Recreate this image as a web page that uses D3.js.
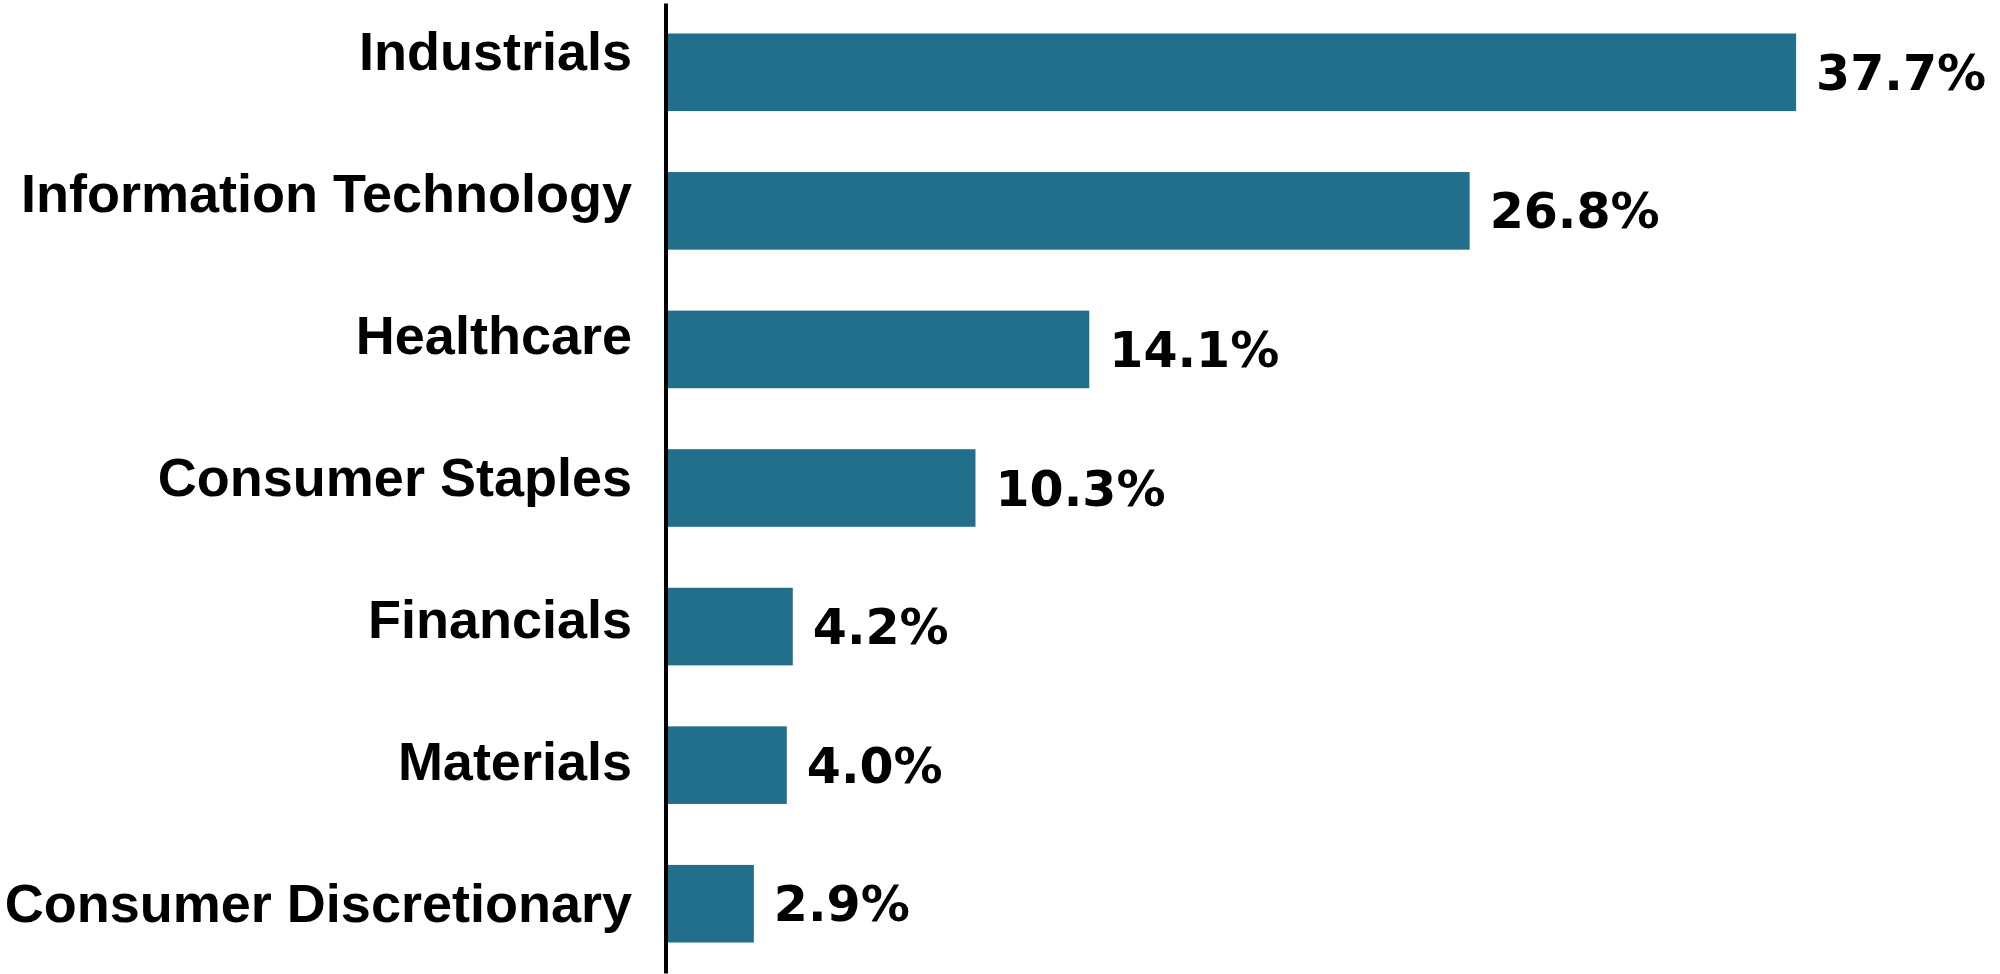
<!DOCTYPE html>
<html lang="en">
<head>
    <meta charset="UTF-8">
    <title>Sector weights</title>
    <script src="https://d3js.org/d3.v7.min.js"></script>
    <style>
        body { margin: 0; background: #fff; }
        text { font-family: "DejaVu Sans", Verdana, sans-serif; font-weight: bold; fill: #000; }
        .cat { font-family: "Liberation Sans", Arial, sans-serif; }
    </style>
</head>
<body>
<div id="chart"></div>
<script>
    // sector weights, top to bottom
    var categories = [
        "Industrials",
        "Information Technology",
        "Healthcare",
        "Consumer Staples",
        "Financials",
        "Materials",
        "Consumer Discretionary"
    ];
    var values = [37.7, 26.8, 14.1, 10.3, 4.2, 4.0, 2.9];

    var W = 2000, H = 974;
    var left = 666;

    var svg = d3.select("#chart")
        .append("svg")
        .attr("width", W)
        .attr("height", H);

    var x = d3.scaleLinear()
        .domain([0, 40])
        .range([left + 1, left + 1 + 40 * 29.95]);

    var y = d3.scaleBand()
        .domain(categories)
        .range([3, 973])
        .paddingInner(0.44)
        .paddingOuter(0.22);

    // category labels sit on a slightly wider spacing than the bars
    var labelY = d3.scalePoint()
        .domain(categories)
        .range([51.5, 903]);

    var data = categories.map(function (c, i) {
        return { cat: c, val: values[i] };
    });

    // bars
    svg.append("g")
        .selectAll("rect")
        .data(data)
        .enter()
        .append("rect")
        .attr("x", x(0))
        .attr("y", function (d) { return y(d.cat); })
        .attr("width", function (d) { return x(d.val) - x(0); })
        .attr("height", y.bandwidth())
        .attr("fill", "#216f8a");

    // vertical axis line
    var axis = svg.append("g")
        .attr("transform", "translate(" + (left - 0.5) + ",0)")
        .call(d3.axisLeft(y).tickSize(0).tickFormat(""));
    axis.select(".domain")
        .attr("stroke", "#000")
        .attr("stroke-width", 4);

    // category labels
    svg.append("g")
        .selectAll("text")
        .data(data)
        .enter()
        .append("text")
        .attr("class", "cat")
        .attr("x", 632)
        .attr("y", function (d) { return labelY(d.cat); })
        .attr("dy", "0.35em")
        .attr("text-anchor", "end")
        .style("font-size", "54px")
        .text(function (d) { return d.cat; });

    // value labels
    svg.append("g")
        .selectAll("text")
        .data(data)
        .enter()
        .append("text")
        .attr("x", function (d) { return x(d.val) + 20; })
        .attr("y", function (d) { return y(d.cat) + y.bandwidth() / 2; })
        .attr("dy", "0.36em")
        .style("font-size", "49px")
        .text(function (d) { return d.val.toFixed(1) + "%"; });
</script>
</body>
</html>
